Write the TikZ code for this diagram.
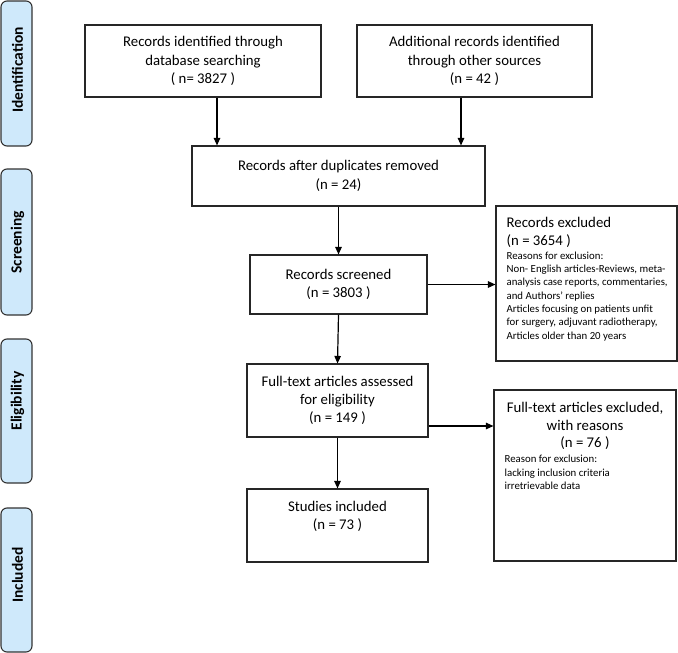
\documentclass[tikz,border=0pt]{standalone}
\usepackage{fontspec}
\setmainfont{Carlito}
\usetikzlibrary{arrows.meta,calc}
\definecolor{phase}{HTML}{CFE9FB}
\definecolor{edge}{HTML}{333333}
\tikzset{
  phasebox/.style={draw=edge, fill=phase, line width=1.1pt, rounded corners=6pt,
    minimum width=31pt, inner sep=0pt},
  phasetxt/.style={rotate=90, inner sep=0pt, font=\fontsize{15.5}{17}\selectfont\bfseries},
  flowbox/.style={draw=black!85, line width=1.1pt, inner sep=0pt, align=center,
    font=\fontsize{14.8}{18.3}\selectfont},
  arr/.style={line width=1.2pt, -{Triangle[length=7.5pt,width=6.5pt]}},
  bigtxt/.style={font=\fontsize{14.8}{17.5}\selectfont, inner sep=0pt},
  smalltxt/.style={font=\fontsize{10.8}{13.3}\selectfont, align=left, inner sep=0pt},
}
\begin{document}
\begin{tikzpicture}[x=1pt,y=-1pt]
\useasboundingbox (0,0) rectangle (678,653);
% phase labels
\node[phasebox, minimum height=145pt] (pid) at (16.5,73.5) {};
\node[phasebox, minimum height=146pt] (psc) at (16.5,242) {};
\node[phasebox, minimum height=144pt] (pel) at (16.5,411) {};
\node[phasebox, minimum height=144pt] (pin) at (16.5,580) {};
\node[phasetxt] (tid) at (17.5,70) {Identification};
\node[phasetxt] (tsc) at (17.5,242.5) {Screening};
\node[phasetxt] (tel) at (17.5,401) {Eligibility};
\node[phasetxt] (tin) at (17.5,575) {Included};

% flow boxes
\node[flowbox, minimum width=236pt, minimum height=72pt] (db) at (203,61)
  {Records identified through\\database searching\\( n= 3827 )};
\node[flowbox, minimum width=235pt, minimum height=72pt] (add) at (474.5,61)
  {Additional records identified\\through other sources\\(n = 42 )};
\node[flowbox, minimum width=293pt, minimum height=60pt] (dup) at (338.5,176)
  {Records after duplicates removed\\(n = 24)};
\node[flowbox, minimum width=177pt, minimum height=59pt] (scr) at (338.5,284.5)
  {Records screened\\(n = 3803 )};
\node[flowbox, minimum width=181pt, minimum height=155pt] (exa) at (586.5,283.5) {};
\node[flowbox, minimum width=181pt, minimum height=73pt] (elg) at (337.5,400.5)
  {Full-text articles assessed\\for eligibility\\(n = 149 )};
\node[flowbox, minimum width=181pt, minimum height=73pt] (inc) at (337.5,525.5) {};
\node[flowbox, minimum width=182pt, minimum height=171pt] (exb) at (585,475.5) {};

% texts inside top-aligned boxes
\node[bigtxt, anchor=north, align=center] (inct) at ([yshift=-13pt]inc.north)
  {Studies included\\(n = 73 )};
\node[bigtxt, anchor=north west, align=left] (exat) at ([xshift=11pt,yshift=-12pt]exa.north west)
  {Records excluded\\(n = 3654 )};
\node[smalltxt, anchor=north west] (exas) at ([yshift=-4pt]exat.south west)
  {Reasons for exclusion:\\
   Non- English articles-Reviews, meta-\\
   analysis case reports, commentaries,\\
   and Authors’ replies\\
   Articles focusing on patients unfit\\
   for surgery, adjuvant radiotherapy,\\
   Articles older than 20 years};
\node[bigtxt, anchor=north, align=center] (exbt) at ([yshift=-13pt]exb.north)
  {Full-text articles excluded,\\with reasons\\(n = 76 )};
\node[smalltxt, anchor=north west] (exbs) at ([xshift=11pt,yshift=-5pt]exb.west |- exbt.south)
  {Reason for exclusion:\\lacking inclusion criteria\\irretrievable data};

% connectors
\draw[arr] ([xshift=14pt]db.south) -- ([xshift=14pt]db.south |- dup.north);
\draw[arr] ([xshift=-13.5pt]add.south) -- ([xshift=-13.5pt]add.south |- dup.north);
\draw[arr] (dup.south) -- (scr.north);
\draw[arr] (scr.east) -- (scr.east -| exa.west);
\draw[arr] (scr.south) -- (elg.north);
\draw[arr] (elg.south) -- (inc.north);
\draw[arr] ([yshift=-25.5pt]elg.east) -- ([yshift=-25.5pt]elg.east -| exb.west);
\end{tikzpicture}
\end{document}
